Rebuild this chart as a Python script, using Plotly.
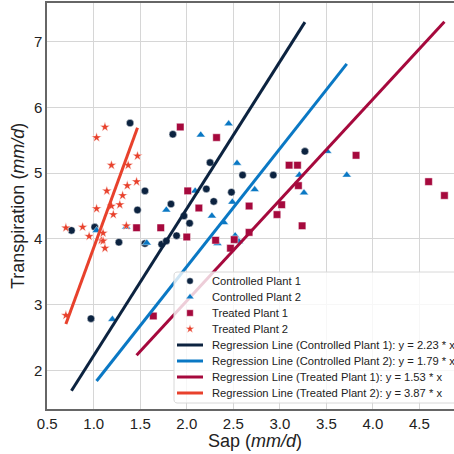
import numpy as np
import plotly.graph_objects as go

# Sap flux (x) and transpiration (y), both in mm/d
ctrl1_sap = [0.76, 0.97, 1.01, 1.27, 1.39, 1.47, 1.55, 1.55, 1.73, 1.78, 1.83,
             1.85, 1.89, 1.97, 2.03, 2.21, 2.25, 2.29, 2.48, 2.60, 2.93, 3.27]
ctrl1_tr = [4.13, 2.79, 4.18, 3.95, 5.76, 4.44, 4.73, 3.93, 3.92, 3.97, 4.53,
            5.59, 4.05, 4.35, 4.24, 4.76, 5.16, 4.57, 4.71, 4.97, 4.97, 5.33]

ctrl2_sap = [1.03, 1.20, 1.35, 1.57, 1.78, 2.09, 2.15, 2.27, 2.33, 2.40, 2.45,
             2.49, 2.52, 2.54, 2.56, 2.73, 3.21, 3.26, 3.51, 3.72]
ctrl2_tr = [4.13, 2.78, 4.18, 3.94, 4.44, 4.73, 5.58, 4.35, 3.93, 4.25, 5.75,
            4.56, 4.05, 5.15, 3.96, 4.75, 4.97, 4.70, 5.33, 4.97]

treat1_sap = [1.46, 1.64, 1.72, 1.93, 2.00, 2.01, 2.13, 2.31, 2.32, 2.47, 2.51,
              2.67, 2.67, 2.97, 3.02, 3.10, 3.19, 3.20, 3.24, 3.82, 4.60, 4.77]
treat1_tr = [4.17, 2.83, 4.17, 5.70, 4.03, 4.73, 4.47, 3.98, 5.54, 3.86, 3.99,
             4.10, 4.50, 4.37, 4.52, 5.12, 5.12, 4.81, 4.20, 5.27, 4.87, 4.66]

treat2_sap = [0.70, 0.70, 0.88, 0.95, 1.03, 1.03, 1.08, 1.10, 1.10, 1.12, 1.12,
              1.14, 1.19, 1.19, 1.21, 1.28, 1.31, 1.35, 1.36, 1.37, 1.46, 1.47]
treat2_tr = [2.84, 4.17, 4.18, 4.04, 4.46, 5.54, 3.98, 4.09, 3.97, 3.86, 5.70,
             4.73, 4.50, 5.12, 4.37, 4.52, 4.66, 4.20, 4.81, 5.12, 4.87, 5.26]

# Slopes of the zero-intercept regression lines
slopes = [2.23, 1.79, 1.53, 3.87]

names = ["Controlled Plant 1", "Controlled Plant 2", "Treated Plant 1", "Treated Plant 2"]
colors = ["#0c2340", "#0a78c4", "#a6093d", "#e8412c"]
symbols = ["circle", "triangle-up", "square", "star"]
sizes = [7.5, 8, 7.5, 7.5]

series = [(ctrl1_sap, ctrl1_tr), (ctrl2_sap, ctrl2_tr),
          (treat1_sap, treat1_tr), (treat2_sap, treat2_tr)]

FONT = "Liberation Sans, Arial, sans-serif"
TEXT = "#222222"

# Figure geometry (pixels)
W = H = 454
ML, MR, MT, MB = 47, 0, 3, 45
PX0, PX1 = ML, W - MR
PY0, PY1 = MT, H - MB

fig = go.Figure()

for (xs, ys), name, c, sym, sz in zip(series, names, colors, symbols, sizes):
    fig.add_trace(go.Scatter(
        x=xs, y=ys, mode="markers", name=name, showlegend=False,
        marker=dict(color=c, symbol=sym, size=sz,
                    line=dict(color="rgba(255,255,255,0.8)", width=0.6)),
    ))

line_labels = []
for (xs, ys), name, c, k in zip(series, names, colors, slopes):
    xl = np.array([min(xs), max(xs)])
    label = f"Regression Line ({name}): y = {k:.2f} * x"
    line_labels.append(label)
    fig.add_trace(go.Scatter(
        x=xl, y=k * xl, mode="lines", name=label, showlegend=False,
        line=dict(color=c, width=3),
    ))

# ---- legend, drawn on an overlay axis measured in pixels ----
LX0, LX1, LY0, LY1 = 174, 470, 272, 403
r = 3
ang = np.linspace(0, np.pi / 2, 6)
bx, by = [], []
for cx, cy, a0 in [(LX1 - r, LY0 + r, -np.pi / 2), (LX1 - r, LY1 - r, 0),
                   (LX0 + r, LY1 - r, np.pi / 2), (LX0 + r, LY0 + r, np.pi)]:
    bx += list(cx + r * np.cos(a0 + ang))
    by += list(cy + r * np.sin(a0 + ang))
bx.append(bx[0]); by.append(by[0])
fig.add_trace(go.Scatter(
    x=bx, y=by, xaxis="x2", yaxis="y2", mode="lines", fill="toself",
    fillcolor="rgba(255,255,255,0.8)", line=dict(color="#d8d8d8", width=1),
    hoverinfo="skip", showlegend=False,
))

row_y = [281 + 16 * i for i in range(8)]
key_x = 190
text_x = 210
leg_sizes = [6.5, 7, 6.5, 6.5]
for i, (c, sym, s) in enumerate(zip(colors, symbols, leg_sizes)):
    fig.add_trace(go.Scatter(
        x=[key_x], y=[row_y[i]], xaxis="x2", yaxis="y2", mode="markers",
        marker=dict(color=c, symbol=sym, size=s,
                    line=dict(color="rgba(255,255,255,0.8)", width=0.5)),
        hoverinfo="skip", showlegend=False,
    ))
for i, c in enumerate(colors):
    fig.add_trace(go.Scatter(
        x=[177, 203], y=[row_y[4 + i]] * 2, xaxis="x2", yaxis="y2", mode="lines",
        line=dict(color=c, width=3), hoverinfo="skip", showlegend=False,
    ))
for i, label in enumerate(names + line_labels):
    fig.add_annotation(
        text=label, xref="x2", yref="y2", x=text_x, y=row_y[i],
        xanchor="left", yanchor="middle", showarrow=False,
        font=dict(family=FONT, size=11.2, color=TEXT),
    )

x_lo, x_hi_full = 0.497, 4.97
y_lo, y_hi = 1.418, 7.583

fig.update_layout(
    xaxis=dict(
        range=[x_lo, 4.873], tickvals=[0.5, 1.0, 1.5, 2.0, 2.5, 3.0, 3.5, 4.0, 4.5],
        ticktext=["0.5", "1.0", "1.5", "2.0", "2.5", "3.0", "3.5", "4.0", "4.5"],
        showgrid=True, gridcolor="#d6d6d6", gridwidth=1.2,
        showline=True, linecolor="#666666", linewidth=1.5, mirror=True,
        ticks="",
        tickfont=dict(family=FONT, size=15, color=TEXT),
        zeroline=False,
    ),
    yaxis=dict(
        range=[y_lo, y_hi], tickvals=[2, 3, 4, 5, 6, 7],
        showgrid=True, gridcolor="#d6d6d6", gridwidth=1.2,
        showline=True, linecolor="#666666", linewidth=1.5,
        ticks="",
        tickfont=dict(family=FONT, size=15, color=TEXT),
        zeroline=False,
    ),
    xaxis2=dict(overlaying="x", range=[PX0, PX1], visible=False, fixedrange=True),
    yaxis2=dict(overlaying="y", range=[PY1, PY0], visible=False, fixedrange=True),
)

fig.add_annotation(
    text="Sap (<i>mm/d</i>)", xref="x", yref="paper",
    x=(x_lo + x_hi_full) / 2, y=0, yshift=-32,
    xanchor="center", yanchor="middle", showarrow=False,
    font=dict(family=FONT, size=18, color=TEXT),
)
fig.add_annotation(
    text="Transpiration (<i>mm/d</i>)", xref="paper", yref="paper",
    x=0, y=0.5, xshift=-29, textangle=-90,
    xanchor="center", yanchor="middle", showarrow=False,
    font=dict(family=FONT, size=18, color=TEXT),
)

fig.update_layout(
    width=W, height=H,
    margin=dict(l=ML, r=MR, t=MT, b=MB),
    plot_bgcolor="white", paper_bgcolor="white",
    showlegend=False,
)

fig.write_html("out.html")
